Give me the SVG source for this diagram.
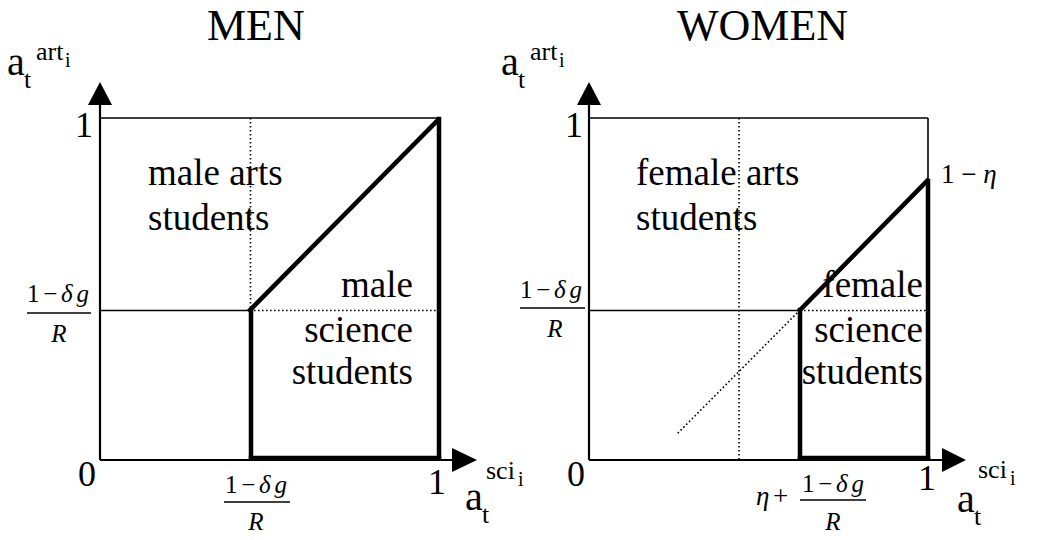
<svg xmlns="http://www.w3.org/2000/svg" width="1042" height="540" viewBox="0 0 1042 540" font-family="Liberation Serif, DejaVu Serif, Times New Roman, serif">
<style>
text{font-family:"Liberation Serif","DejaVu Serif","Times New Roman",serif;fill:#000}
.title{font-size:44px}
.lbl{font-size:37px}
.num{font-size:36px}
.ax{font-size:40px}
.sub{font-size:26px}
.ss{font-size:20px}
.fr{font-size:25px}
.it{font-style:italic}
.thin{stroke:#000;stroke-width:1.6;fill:none}
.axis{stroke:#000;stroke-width:2.2;fill:none}
.thick{stroke:#000;stroke-width:4.5;fill:none;stroke-linecap:square}
.dot{stroke:#000;stroke-width:1.6;fill:none;stroke-dasharray:1.6 2.4}
.fl{stroke:#000;stroke-width:1.5}
.head{fill:#000}
</style>
<rect width="1042" height="540" fill="#fff"/>

<g id="men-panel">
  <text class="title" x="207" y="40">MEN</text>
  <g id="men-yaxis-label">
    <text class="ax" x="7" y="75">a</text>
    <text class="sub" x="24" y="88">t</text>
    <text class="sub" x="36" y="60">art</text>
    <text class="ss" x="65" y="67">i</text>
  </g>
  <g id="men-xaxis-label">
    <text class="ax" x="465" y="510">a</text>
    <text class="sub" x="482" y="523">t</text>
    <text class="sub" x="486" y="479">sci</text>
    <text class="ss" x="518" y="486">i</text>
  </g>
  <text class="num" x="75" y="137">1</text>
  <text class="num" x="78" y="486">0</text>
  <text class="num" x="428" y="494">1</text>
  <g id="men-frac-left">
    <text class="fr" x="27" y="302" textLength="62" lengthAdjust="spacing">1−<tspan class="it">δg</tspan></text>
    <line class="fl" x1="27" y1="313" x2="91" y2="313"/>
    <text class="fr it" x="59" y="342" text-anchor="middle">R</text>
  </g>
  <g id="men-frac-bottom">
    <text class="fr" x="225" y="493" textLength="62" lengthAdjust="spacing">1−<tspan class="it">δg</tspan></text>
    <line class="fl" x1="224" y1="502" x2="290" y2="502"/>
    <text class="fr it" x="256" y="530" text-anchor="middle">R</text>
  </g>
  <g id="men-arts">
    <text class="lbl" x="148" y="185">male arts</text>
    <text class="lbl" x="148" y="230">students</text>
  </g>
  <g id="men-science">
    <text class="lbl" x="413" y="297" text-anchor="end">male</text>
    <text class="lbl" x="413" y="342" text-anchor="end">science</text>
    <text class="lbl" x="413" y="384" text-anchor="end">students</text>
  </g>
</g>

<g id="women-panel">
  <text class="title" x="677" y="40">WOMEN</text>
  <g id="women-yaxis-label">
    <text class="ax" x="501" y="75">a</text>
    <text class="sub" x="518" y="88">t</text>
    <text class="sub" x="530" y="60">art</text>
    <text class="ss" x="559" y="67">i</text>
  </g>
  <g id="women-xaxis-label">
    <text class="ax" x="957" y="512">a</text>
    <text class="sub" x="974" y="525">t</text>
    <text class="sub" x="978" y="478">sci</text>
    <text class="ss" x="1010" y="485">i</text>
  </g>
  <text class="num" x="565" y="137">1</text>
  <text class="num" x="567" y="486">0</text>
  <text class="num" x="918" y="490">1</text>
  <text class="fr" x="941" y="183" style="font-size:27px">1 − <tspan class="it">η</tspan></text>
  <g id="women-frac-left">
    <text class="fr" x="520" y="298" textLength="62" lengthAdjust="spacing">1−<tspan class="it">δg</tspan></text>
    <line class="fl" x1="520" y1="308" x2="585" y2="308"/>
    <text class="fr it" x="555" y="337" text-anchor="middle">R</text>
  </g>
  <g id="women-frac-bottom">
    <text class="fr it" x="756" y="505" style="font-size:27px">η</text>
    <text class="fr" x="773" y="505" style="font-size:27px">+</text>
    <text class="fr" x="802" y="492" textLength="62" lengthAdjust="spacing">1−<tspan class="it">δg</tspan></text>
    <line class="fl" x1="800" y1="500" x2="866" y2="500"/>
    <text class="fr it" x="833" y="530" text-anchor="middle">R</text>
  </g>
  <g id="women-arts">
    <text class="lbl" x="636" y="185">female arts</text>
    <text class="lbl" x="636" y="230">students</text>
  </g>
  <g id="women-science">
    <text class="lbl" x="923" y="297" text-anchor="end">female</text>
    <text class="lbl" x="923" y="342" text-anchor="end">science</text>
    <text class="lbl" x="923" y="384" text-anchor="end">students</text>
  </g>
</g>

<g id="connectors">
  <line class="axis" x1="100" y1="460" x2="100" y2="104"/>
  <polygon class="head" points="88,105 100,82 112,105"/>
  <line class="axis" x1="100" y1="460" x2="454" y2="460"/>
  <polygon class="head" points="452,448 477,460 452,472"/>
  <line class="thin" x1="100" y1="118" x2="440" y2="118"/>
  <line class="thin" x1="100" y1="310.5" x2="250" y2="310.5"/>
  <line class="dot" x1="250" y1="310.5" x2="438" y2="310.5"/>
  <line class="dot" x1="250.5" y1="118" x2="250.5" y2="310"/>
  <line class="thick" x1="250" y1="310" x2="438" y2="120"/>
  <line class="thick" x1="439" y1="119" x2="439" y2="458"/>
  <line class="thick" x1="251" y1="310" x2="251" y2="458"/>
  <line class="thick" x1="251" y1="458" x2="439" y2="458"/>
  <line class="axis" x1="589" y1="460" x2="589" y2="104"/>
  <polygon class="head" points="577,105 589,82 601,105"/>
  <line class="axis" x1="589" y1="460" x2="944" y2="460"/>
  <polygon class="head" points="942,448 966,460 942,472"/>
  <line class="thin" x1="589" y1="118" x2="928" y2="118"/>
  <line class="thin" x1="928" y1="118" x2="928" y2="180"/>
  <line class="thin" x1="589" y1="310.5" x2="800" y2="310.5"/>
  <line class="dot" x1="800" y1="310.5" x2="928" y2="310.5"/>
  <line class="dot" x1="739" y1="118" x2="739" y2="460"/>
  <line class="dot" x1="800" y1="310" x2="677" y2="434"/>
  <line class="thick" x1="800" y1="310" x2="927" y2="181"/>
  <line class="thick" x1="928" y1="181" x2="928" y2="458"/>
  <line class="thick" x1="800" y1="310" x2="800" y2="458"/>
  <line class="thick" x1="800" y1="458" x2="928" y2="458"/>
</g>
</svg>
